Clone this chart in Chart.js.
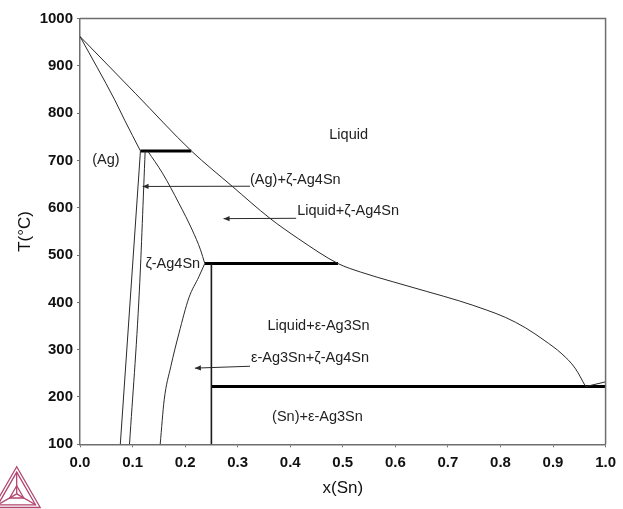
<!DOCTYPE html>
<html>
<head>
<meta charset="utf-8">
<script src="https://cdn.jsdelivr.net/npm/chart.js@4.4.1/dist/chart.umd.min.js"></script>
<style>
  html, body { margin: 0; padding: 0; background: #ffffff; }
  canvas { display: block; }
</style>
</head>
<body>
<canvas id="c" width="623" height="509"></canvas>
<script>
// Ag–Sn phase diagram: composition x(Sn) against temperature T(°C)

// Liquidus from pure Ag down to the eutectic
const liquidusX = [0.0, 0.106, 0.212, 0.29, 0.361, 0.415, 0.491, 0.534, 0.597, 0.66, 0.722, 0.773, 0.81, 0.848, 0.883, 0.917, 0.942, 0.962];
const liquidusT = [962, 841, 720, 645, 578, 535, 482, 464, 443, 423, 403, 384, 368, 346, 320, 291, 261, 222];

// Short liquidus branch on the Sn side
const snLiquidusX = [0.962, 1.0];
const snLiquidusT = [222, 232];

// Solidus of the (Ag) solid solution
const agSolidusX = [0.0, 0.066, 0.085, 0.115];
const agSolidusT = [962, 828, 785, 720];

// Solvus of (Ag)
const agSolvusX = [0.115, 0.0767];
const agSolvusT = [720, 100];

// Left boundary of the ζ-Ag4Sn field
const zetaLeftX = [0.124, 0.113, 0.0942];
const zetaLeftT = [720, 426, 100];

// Right boundary of ζ-Ag4Sn above the 482 °C peritectic
const zetaUpperX = [0.1287, 0.157, 0.1884, 0.2135, 0.2293, 0.2374];
const zetaUpperT = [720, 673, 609, 553, 511, 482];

// Right boundary of ζ-Ag4Sn below the 482 °C peritectic
const zetaLowerX = [0.1526, 0.1602, 0.1727, 0.1884, 0.2073, 0.2261, 0.2374];
const zetaLowerT = [100, 194, 264, 335, 410, 454, 482];

// ε-Ag3Sn line compound
const epsX = [0.25, 0.25];
const epsT = [482, 100];

// Invariant reactions
const peritecticHighX = [0.115, 0.2117];
const peritecticHighT = [720, 720];
const peritecticLowX = [0.2374, 0.491];
const peritecticLowT = [482, 482];
const eutecticX = [0.25, 1.0];
const eutecticT = [222, 222];

// Axis ticks
const xTicks = [0.0, 0.1, 0.2, 0.3, 0.4, 0.5, 0.6, 0.7, 0.8, 0.9, 1.0];
const yTicks = [100, 200, 300, 400, 500, 600, 700, 800, 900, 1000];

// Phase field names and where they sit (x(Sn), T)
const fieldNames = ['Liquid', '(Ag)', '(Ag)+ζ-Ag4Sn', 'Liquid+ζ-Ag4Sn', 'ζ-Ag4Sn', 'Liquid+ε-Ag3Sn', 'ε-Ag3Sn+ζ-Ag4Sn', '(Sn)+ε-Ag3Sn'];
const fieldX = [0.4743, 0.0232, 0.3235, 0.4132, 0.1244, 0.3567, 0.3254, 0.3655];
const fieldT = [754, 701, 659, 594, 481, 349, 282, 158];

// Pointer arrows: from label (tail) to the field they name (head)
const arrowTailX = [0.3235, 0.4113, 0.3235];
const arrowTailT = [645.5, 577.7, 265];
const arrowHeadX = [0.119, 0.2732, 0.2186];
const arrowHeadT = [645, 577, 261];

function pts(xs, ts) { return xs.map((x, i) => ({ x: x, y: ts[i] })); }

const thin = { borderColor: '#2a2a2a', borderWidth: 1, cubicInterpolationMode: 'monotone' };
const thick = { borderColor: '#000000', borderWidth: 3 };

const datasets = [
  Object.assign({ label: 'Liquidus', data: pts(liquidusX, liquidusT) }, thin),
  Object.assign({ label: 'Sn liquidus', data: pts(snLiquidusX, snLiquidusT) }, thin),
  Object.assign({ label: '(Ag) solidus', data: pts(agSolidusX, agSolidusT) }, thin),
  Object.assign({ label: '(Ag) solvus', data: pts(agSolvusX, agSolvusT) }, thin),
  Object.assign({ label: 'ζ left', data: pts(zetaLeftX, zetaLeftT) }, thin),
  Object.assign({ label: 'ζ right upper', data: pts(zetaUpperX, zetaUpperT) }, thin),
  Object.assign({ label: 'ζ right lower', data: pts(zetaLowerX, zetaLowerT) }, thin),
  Object.assign({ label: 'ε-Ag3Sn', data: pts(epsX, epsT) }, thin, { borderWidth: 1.6, borderColor: '#1a1a1a' }),
  Object.assign({ label: 'Peritectic 720', data: pts(peritecticHighX, peritecticHighT) }, thick),
  Object.assign({ label: 'Peritectic 482', data: pts(peritecticLowX, peritecticLowT) }, thick),
  Object.assign({ label: 'Eutectic', data: pts(eutecticX, eutecticT) }, thick)
];

const FONT = "'Liberation Sans', Arial, Helvetica, sans-serif";

// Frame, field names, arrows and the logo mark
const decor = {
  id: 'decor',
  afterDraw(chart) {
    const { ctx, chartArea: a, scales } = chart;
    const sx = scales.x, sy = scales.y;
    ctx.save();

    // top and right sides of the plot frame
    ctx.strokeStyle = '#6e6e6e';
    ctx.lineWidth = 1.5;
    ctx.beginPath();
    ctx.moveTo(a.left, a.top);
    ctx.lineTo(a.right, a.top);
    ctx.lineTo(a.right, a.bottom);
    ctx.stroke();

    // field names
    ctx.fillStyle = '#222222';
    ctx.font = '14.5px ' + FONT;
    ctx.textAlign = 'left';
    ctx.textBaseline = 'middle';
    fieldNames.forEach((t, i) => {
      ctx.fillText(t, sx.getPixelForValue(fieldX[i]), sy.getPixelForValue(fieldT[i]));
    });

    // arrows
    ctx.strokeStyle = '#2a2a2a';
    ctx.fillStyle = '#2a2a2a';
    ctx.lineWidth = 1;
    arrowTailX.forEach((_, i) => {
      const x0 = sx.getPixelForValue(arrowTailX[i]), y0 = sy.getPixelForValue(arrowTailT[i]);
      const x1 = sx.getPixelForValue(arrowHeadX[i]), y1 = sy.getPixelForValue(arrowHeadT[i]);
      const ang = Math.atan2(y1 - y0, x1 - x0);
      ctx.beginPath();
      ctx.moveTo(x0, y0);
      ctx.lineTo(x1, y1);
      ctx.stroke();
      const L = 6, W = 2.6;
      ctx.beginPath();
      ctx.moveTo(x1, y1);
      ctx.lineTo(x1 - L * Math.cos(ang) + W * Math.sin(ang), y1 - L * Math.sin(ang) - W * Math.cos(ang));
      ctx.lineTo(x1 - L * Math.cos(ang) - W * Math.sin(ang), y1 - L * Math.sin(ang) + W * Math.cos(ang));
      ctx.closePath();
      ctx.fill();
    });

    // triangular logo mark in the lower-left corner
    const A = [16.7, 466.7], B = [-6.8, 507.5], C = [40.2, 507.5];
    const G = [(A[0] + B[0] + C[0]) / 3, (A[1] + B[1] + C[1]) / 3];
    const scl = (p, k) => [G[0] + (p[0] - G[0]) * k, G[1] + (p[1] - G[1]) * k];
    ctx.strokeStyle = '#b2466f';
    ctx.lineWidth = 1.3;
    [1, 0.8].forEach(k => {
      const a1 = scl(A, k), b1 = scl(B, k), c1 = scl(C, k);
      ctx.beginPath();
      ctx.moveTo(a1[0], a1[1]); ctx.lineTo(b1[0], b1[1]); ctx.lineTo(c1[0], c1[1]); ctx.closePath();
      ctx.stroke();
    });
    const inner = [scl(A, 0.3), scl(B, 0.3), scl(C, 0.3)];
    ctx.beginPath();
    ctx.moveTo(inner[0][0], inner[0][1]); ctx.lineTo(inner[1][0], inner[1][1]); ctx.lineTo(inner[2][0], inner[2][1]); ctx.closePath();
    ctx.stroke();
    [A, B, C].forEach(p => {
      const q = scl(p, 0.8);
      ctx.beginPath(); ctx.moveTo(G[0], G[1]); ctx.lineTo(q[0], q[1]); ctx.stroke();
    });

    ctx.restore();
  }
};

Chart.defaults.font.family = FONT;

new Chart(document.getElementById('c'), {
  type: 'scatter',
  data: { datasets: datasets },
  options: {
    responsive: false,
    animation: false,
    showLine: true,
    elements: { point: { radius: 0, hoverRadius: 0 } },
    layout: { padding: { left: 0, top: 18.5, right: 12.3, bottom: 0 } },
    plugins: { legend: { display: false }, tooltip: { enabled: false } },
    scales: {
      x: {
        type: 'linear',
        min: 0, max: 1,
        afterFit(s) { s.height = 64.7; },
        afterBuildTicks(s) { s.ticks = xTicks.map(v => ({ value: v })); },
        ticks: {
          color: '#111111',
          font: { size: 15, weight: 'bold' },
          padding: 7,
          maxRotation: 0,
          callback: v => Number(v).toFixed(1)
        },
        grid: { drawOnChartArea: false, tickLength: 3, color: '#6e6e6e' },
        border: { display: true, color: '#6e6e6e', width: 1.5 },
        title: { display: true, text: 'x(Sn)', color: '#111111', font: { size: 17 }, padding: { top: 0, bottom: 10.5 } }
      },
      y: {
        type: 'linear',
        min: 100, max: 1000,
        afterFit(s) { s.width = 80; },
        afterBuildTicks(s) { s.ticks = yTicks.map(v => ({ value: v })); },
        ticks: {
          color: '#111111',
          font: { size: 15, weight: 'bold' },
          padding: 4,
          callback: v => String(v)
        },
        grid: { drawOnChartArea: false, tickLength: 3, color: '#6e6e6e' },
        border: { display: true, color: '#6e6e6e', width: 1.5 },
        title: { display: true, text: 'T(°C)', color: '#111111', font: { size: 17 }, padding: { top: 14.8, bottom: 0 } }
      }
    }
  },
  plugins: [decor]
});
</script>
</body>
</html>
